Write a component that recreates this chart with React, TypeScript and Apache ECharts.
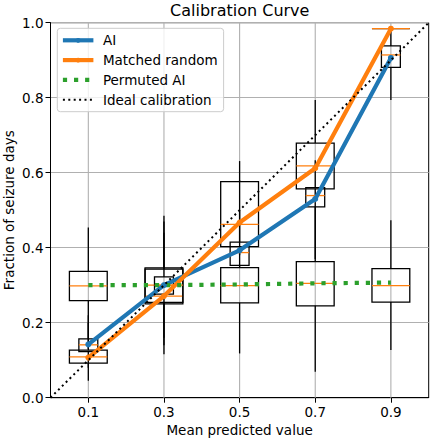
import React, { useEffect, useRef } from 'react';
import * as echarts from 'echarts';

// ---- data ----
const bins = [0.1, 0.3, 0.5, 0.7, 0.9];
const xTickValues = [0.1, 0.3, 0.5, 0.7, 0.9];

const aiCurve = [0.142, 0.3, 0.393, 0.53, 0.906];
const matchedCurve = [0.107, 0.271, 0.467, 0.612, 0.984];
const permutedCurve = [0.3, 0.3, 0.302, 0.305, 0.307];
const idealX = [0, 1];
const idealY = [0, 1];

// [low whisker, q1, median, q3, high whisker]
const aiBoxes = [
  [0.08, 0.123, 0.141, 0.157, 0.22],
  [0.16, 0.276, 0.3, 0.322, 0.44],
  [0.35, 0.353, 0.387, 0.415, 0.58],
  [0.37, 0.509, 0.539, 0.56, 0.633],
  [0.794, 0.881, 0.914, 0.938, 0.984],
];
const matchedBoxes = [
  [0.045, 0.092, 0.109, 0.127, 0.2],
  [0.116, 0.25, 0.271, 0.346, 0.485],
  [0.38, 0.403, 0.462, 0.576, 0.631],
  [0.52, 0.557, 0.618, 0.679, 0.794],
  [0.984, 0.984, 0.984, 0.984, 0.984],
];
const permutedBoxes = [
  [0.13, 0.259, 0.298, 0.337, 0.454],
  [0.14, 0.254, 0.3, 0.343, 0.47],
  [0.118, 0.253, 0.299, 0.347, 0.5],
  [0.069, 0.245, 0.305, 0.363, 0.52],
  [0.127, 0.255, 0.299, 0.344, 0.473],
];

const FONT = 'DejaVu Sans';
const BLUE = '#1f77b4';
const ORANGE = '#ff7f0e';
const GREEN = '#2ca02c';

function boxSeries(boxes: number[][], halfWidth: number) {
  return {
    type: 'custom',
    silent: true,
    clip: false,
    data: boxes.map((b, i) => [bins[i], ...b]),
    encode: { x: 0, y: [1, 2, 3, 4, 5] },
    renderItem: (params: any, api: any) => {
      const x = api.value(0);
      const lo = api.value(1), q1 = api.value(2), med = api.value(3), q3 = api.value(4), hi = api.value(5);
      const cx = api.coord([x, lo])[0];
      const yLo = api.coord([x, lo])[1];
      const yQ1 = api.coord([x, q1])[1];
      const yMed = api.coord([x, med])[1];
      const yQ3 = api.coord([x, q3])[1];
      const yHi = api.coord([x, hi])[1];
      const xl = api.coord([x - halfWidth, q1])[0];
      const xr = api.coord([x + halfWidth, q1])[0];
      const black = { stroke: '#000', lineWidth: 1.3, fill: null };
      return {
        type: 'group',
        children: [
          { type: 'line', shape: { x1: cx, y1: yQ1, x2: cx, y2: yLo }, style: black },
          { type: 'line', shape: { x1: cx, y1: yQ3, x2: cx, y2: yHi }, style: black },
          { type: 'rect', shape: { x: xl, y: yQ3, width: xr - xl, height: yQ1 - yQ3 }, style: { stroke: '#000', lineWidth: 1.3, fill: 'none' } },
          { type: 'line', shape: { x1: xl, y1: yMed, x2: xr, y2: yMed }, style: { stroke: ORANGE, lineWidth: 1.3 } },
        ],
      };
    },
  };
}

export default function App() {
  const ref = useRef<HTMLDivElement>(null);
  useEffect(() => {
    if (!ref.current) return;
    const chart = echarts.init(ref.current, undefined, { renderer: 'svg' });
    const option: any = {
      animation: false,
      backgroundColor: '#fff',
      textStyle: { fontFamily: FONT },
      grid: {
        left: 50.5, right: 3.3, top: 22.7, bottom: 42.3,
        containLabel: false, outerBoundsMode: 'none',
        show: true, borderColor: '#000', borderWidth: 1, backgroundColor: 'transparent',
      },
      graphic: [
        {
          type: 'text', x: 239.75, y: 10, z: 10,
          style: { text: 'Calibration Curve', font: `16px "${FONT}"`, fill: '#000', textAlign: 'center', textVerticalAlign: 'middle' },
        },
      ],
      legend: {
        data: [
          { name: 'AI' },
          { name: 'Matched random' },
          { name: 'Permuted AI', itemStyle: { opacity: 0 } },
          { name: 'Ideal calibration', itemStyle: { opacity: 0 } },
        ],
        orient: 'vertical', left: 57.3, top: 28.3,
        itemWidth: 30.5, itemHeight: 6, itemGap: 5.8,
        padding: [5, 6, 5, 3.5],
        backgroundColor: 'rgba(255,255,255,0.8)', borderColor: '#cccccc', borderWidth: 1, borderRadius: 3,
        lineStyle: { width: 'inherit' },
        textStyle: { fontFamily: FONT, fontSize: 13.5, color: '#000', lineHeight: 14, padding: [0, 0, 0, 4.5] },
        selectedMode: false,
      },
      xAxis: {
        type: 'value', min: 0, max: 1,
        name: 'Mean predicted value', nameLocation: 'middle', nameGap: 25.5, nameMoveOverlap: false,
        nameTextStyle: { fontFamily: FONT, fontSize: 13.5, color: '#000' },
        axisLine: { show: true, lineStyle: { color: '#000', width: 1 } },
        axisTick: { show: true, length: 5, customValues: xTickValues, lineStyle: { color: '#000', width: 1 } },
        axisLabel: { customValues: xTickValues, margin: 7, fontFamily: FONT, fontSize: 13.5, color: '#000', formatter: (v: number) => v.toFixed(1) },
        splitLine: { show: false },
      },
      yAxis: {
        type: 'value', min: 0, max: 1, interval: 0.2,
        name: 'Fraction of seizure days', nameLocation: 'middle', nameGap: 35, nameRotate: 90, nameMoveOverlap: false,
        nameTextStyle: { fontFamily: FONT, fontSize: 13.5, color: '#000' },
        axisLine: { show: true, lineStyle: { color: '#000', width: 1 } },
        axisTick: { show: true, length: 5, lineStyle: { color: '#000', width: 1 } },
        axisLabel: { margin: 7, fontFamily: FONT, fontSize: 13.5, color: '#000', formatter: (v: number) => v.toFixed(1) },
        splitLine: { show: true, lineStyle: { color: '#b0b0b0', width: 1.1 } },
      },
      series: [
        {
          type: 'custom', silent: true, z: 1, clip: false,
          data: xTickValues.map((v) => [v]),
          encode: { x: 0 },
          renderItem: (params: any, api: any) => {
            const x = api.value(0);
            const p0 = api.coord([x, 0]);
            const p1 = api.coord([x, 1]);
            return { type: 'line', shape: { x1: p0[0], y1: p0[1], x2: p1[0], y2: p1[1] }, style: { stroke: '#b0b0b0', lineWidth: 1.1 } };
          },
        },
        boxSeries(matchedBoxes, 0.05),
        boxSeries(permutedBoxes, 0.05),
        boxSeries(aiBoxes, 0.025),
        {
          name: 'AI', type: 'line', data: bins.map((b, i) => [b, aiCurve[i]]),
          symbol: 'circle', symbolSize: 6, showSymbol: true,
          itemStyle: { color: BLUE }, lineStyle: { color: BLUE, width: 4.2 }, z: 3,
        },
        {
          name: 'Matched random', type: 'line', data: bins.map((b, i) => [b, matchedCurve[i]]),
          symbol: 'circle', symbolSize: 6, showSymbol: true,
          itemStyle: { color: ORANGE }, lineStyle: { color: ORANGE, width: 4.2 }, z: 3,
        },
        {
          name: 'Permuted AI', type: 'line', data: bins.map((b, i) => [b, permutedCurve[i]]),
          symbol: 'none', itemStyle: { color: GREEN },
          lineStyle: { color: GREEN, width: 4.2, type: [4.2, 6.9], cap: 'butt' }, z: 3,
        },
        {
          name: 'Ideal calibration', type: 'line', data: idealX.map((x, i) => [x, idealY[i]]),
          symbol: 'none', itemStyle: { color: '#000' },
          lineStyle: { color: '#000', width: 2, type: [2, 3.4], cap: 'butt' }, z: 4,
        },
      ],
    };
    chart.setOption(option);
    return () => chart.dispose();
  }, []);
  return <div ref={ref} style={{ position: 'absolute', left: 0, top: 0, width: 432, height: 440 }} />;
}
